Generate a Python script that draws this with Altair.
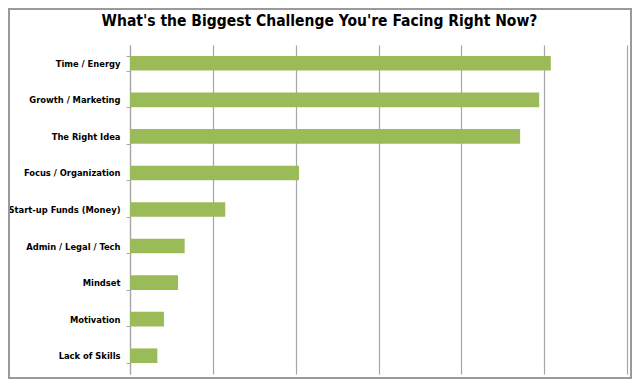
import altair as alt
import pandas as pd

categories = [
    "Time / Energy",
    "Growth / Marketing",
    "The Right Idea",
    "Focus / Organization",
    "Start-up Funds (Money)",
    "Admin / Legal / Tech",
    "Mindset",
    "Motivation",
    "Lack of Skills",
]
values = [50.8, 49.4, 47.1, 20.4, 11.5, 6.6, 5.8, 4.1, 3.3]
x_grid = [0, 10, 20, 30, 40, 50, 60]

df = pd.DataFrame({"challenge": categories, "value": values})

W, H = 497, 329
FONT = "DejaVu Sans Condensed"
GRID = "#a6a6a6"

bars = alt.Chart(df).mark_bar(color="#9BBB59").encode(
    x=alt.X(
        "value:Q",
        scale=alt.Scale(domain=[0, 60], nice=False),
        axis=alt.Axis(
            values=x_grid, labels=False, ticks=False, domain=False,
            title=None, grid=True, gridColor=GRID, gridWidth=1.2,
        ),
    ),
    y=alt.Y(
        "challenge:N",
        sort=categories,
        scale=alt.Scale(paddingInner=0.6, paddingOuter=0.3),
        axis=alt.Axis(
            title=None, tickBand="extent", tickSize=4, tickColor=GRID,
            domainColor=GRID, domainWidth=1.2, labelPadding=6,
            labelFont=FONT, labelFontWeight="bold", labelFontSize=9.3,
            labelColor="#000000", grid=False,
        ),
    ),
)

border = alt.Chart(df).mark_rect(fill=None, stroke="#9a9a9a", strokeWidth=1.5).encode(
    x=alt.value(-121.25), x2=alt.value(W + 4.25),
    y=alt.value(-36.25), y2=alt.value(H + 4.25),
)

chart = alt.layer(bars, border).properties(
    width=W,
    height=H,
    padding={"left": 122, "top": 37, "right": 5, "bottom": 5},
    autosize=alt.AutoSizeParams(type="none"),
    title=alt.TitleParams(
        "What's the Biggest Challenge You're Facing Right Now?",
        font=FONT, fontSize=15.5, fontWeight="bold", color="#000000",
        anchor="middle", baseline="alphabetic", offset=-33, dx=-59,
        frame="group",
    ),
).configure_view(stroke=None)

chart.save("out.html", embed_options={"renderer": "svg", "actions": False})
